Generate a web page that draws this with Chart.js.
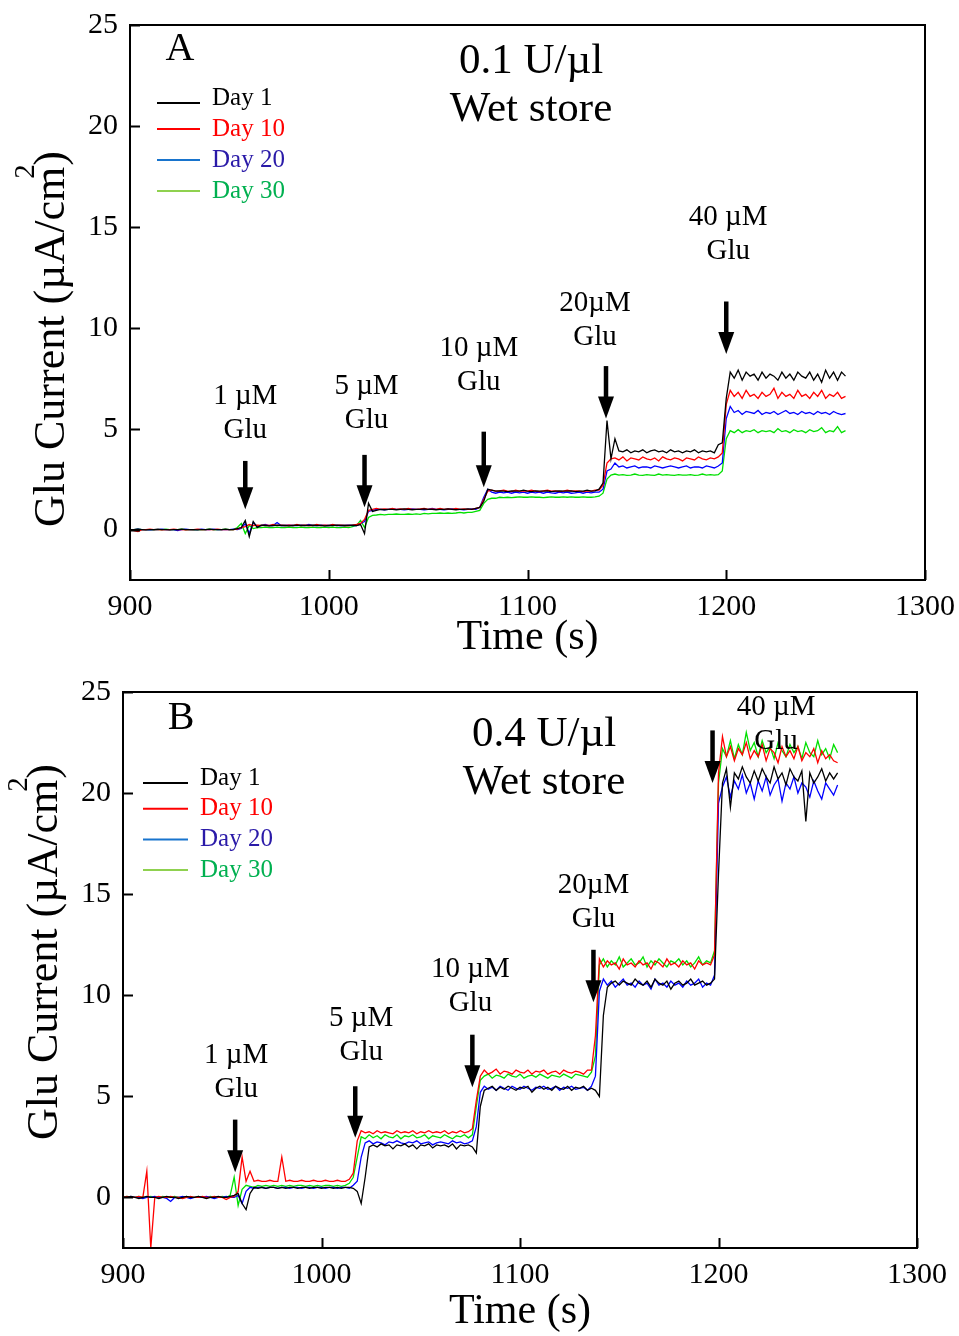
<!DOCTYPE html>
<html>
<head>
<meta charset="utf-8">
<title>Glu Current - Wet store</title>
<script src="https://cdn.jsdelivr.net/npm/chart.js@4.4.1/dist/chart.umd.min.js"></script>
<style>
  html, body { margin: 0; padding: 0; background: #fff; }
  .panel { position: absolute; left: 0; width: 959px; }
  #wrapA { top: 0; height: 660px; }
  #wrapB { top: 660px; height: 676px; }
</style>
</head>
<body>
<div class="panel" id="wrapA"><canvas id="chartA"></canvas></div>
<div class="panel" id="wrapB"><canvas id="chartB"></canvas></div>
<script>
// sampling: one reading every 2 s from 900 s
const tStart = 900;
const tStep = 2;

const seriesNames = ["Day 1", "Day 10", "Day 20", "Day 30"];
const xTicks = [900, 1000, 1100, 1200, 1300];
const yTicks = [0, 5, 10, 15, 20, 25];
const doses = ["1 \u00b5M", "5 \u00b5M", "10 \u00b5M", "20\u00b5M", "40 \u00b5M"];

// panel A : 0.1 U/ul
const a_day1 = [
  0, 0, 0.02, 0, -0.02, 0, 0, 0.02, 0, 0,
  -0.02, 0, 0, 0.02, 0, 0, 0, -0.02, 0, 0,
  0.02, 0, 0, 0, 0.02, 0, 0, 0.05, 0.1, 0.45,
  -0.35, 0.4, 0.1, 0.22, 0.2, 0.18, 0.2, 0.22, 0.2, 0.2,
  0.18, 0.2, 0.22, 0.2, 0.2, 0.2, 0.22, 0.2, 0.2, 0.18,
  0.2, 0.2, 0.22, 0.2, 0.2, 0.2, 0.22, 0.2, 0.25, -0.2,
  1.3, 0.9, 0.95, 1.0, 0.98, 1.0, 1.0, 0.98, 1.0, 1.02,
  1.0, 0.98, 1.0, 1.0, 1.02, 1.0, 1.0, 0.98, 1.0, 1.0,
  1.02, 1.0, 0.98, 1.0, 1.0, 1.02, 1.0, 1.05, 1.1, 1.4,
  2.0, 1.95, 1.9, 1.92, 1.9, 1.88, 1.92, 1.9, 1.9, 1.95,
  1.9, 1.88, 1.92, 1.9, 1.9, 1.92, 1.88, 1.9, 1.92, 1.9,
  1.9, 1.92, 1.88, 1.9, 1.9, 1.95, 1.9, 1.92, 2.0, 2.3,
  5.4, 3.5, 4.5, 3.9, 3.85, 3.95, 3.8, 3.9, 3.85, 3.95,
  3.8, 3.9, 3.95, 3.85, 3.9, 3.8, 3.95, 3.85, 3.9, 3.8,
  3.9, 3.85, 3.95, 3.8, 3.9, 3.85, 3.9, 3.8, 4.2, 4.3,
  6.5, 7.8, 7.5, 7.9, 7.4, 7.8, 7.6, 7.7, 7.4, 7.8,
  7.5, 7.7, 7.6, 7.4, 7.8, 7.5, 7.7, 7.4, 7.8, 7.6,
  7.5, 7.8, 7.4, 7.7, 7.3, 7.9, 7.5, 7.8, 7.4, 7.8,
  7.6
];
const a_day10 = [
  0, -0.05, -0.1, 0, 0, 0.02, 0, 0, -0.02, 0,
  0, 0.02, 0, 0, -0.02, 0, 0, 0.02, 0, 0,
  0, 0, 0.02, 0, 0, 0, 0, 0.02, 0.1, 0.15,
  0.25, 0.2, 0.22, 0.2, 0.22, 0.2, 0.25, 0.2, 0.22, 0.2,
  0.22, 0.2, 0.25, 0.2, 0.22, 0.2, 0.2, 0.25, 0.2, 0.22,
  0.2, 0.25, 0.2, 0.22, 0.2, 0.2, 0.22, 0.25, 0.3, 0.5,
  0.95, 1.0, 1.05, 1.0, 1.02, 1.0, 1.05, 1.0, 1.02, 1.0,
  1.05, 1.0, 1.0, 1.02, 1.05, 1.0, 1.02, 1.0, 1.05, 1.0,
  1.02, 1.0, 1.05, 1.0, 1.02, 1.0, 1.0, 1.05, 1.1, 1.5,
  1.9, 1.95, 1.9, 1.92, 1.95, 1.9, 1.88, 1.95, 1.9, 1.92,
  1.9, 1.95, 1.9, 1.88, 1.92, 1.95, 1.9, 1.92, 1.88, 1.9,
  1.95, 1.9, 1.92, 1.9, 1.88, 1.92, 1.9, 1.95, 1.95, 2.2,
  3.3, 3.5, 3.55, 3.45, 3.6, 3.4, 3.55, 3.5, 3.45, 3.6,
  3.5, 3.45, 3.55, 3.4, 3.6, 3.5, 3.45, 3.55, 3.5, 3.4,
  3.55, 3.5, 3.45, 3.6, 3.5, 3.45, 3.55, 3.5, 3.6, 3.8,
  6.2, 6.9, 6.6, 6.8, 6.5, 6.9, 6.6, 6.7, 6.5, 6.8,
  6.6, 6.7, 7.0, 6.5, 6.8, 6.6, 6.7, 6.5, 6.9, 6.6,
  6.7, 6.5, 6.8, 6.6, 6.9, 6.5, 6.7, 6.6, 6.8, 6.5,
  6.6
];
const a_day20 = [
  0, 0, 0.02, 0, 0, -0.02, 0, 0, 0.02, 0,
  0, 0, -0.05, 0, 0.02, 0, 0, 0, 0.02, 0,
  0, 0.02, 0, 0, 0, 0, 0.02, 0, 0.05, 0.3,
  -0.2, 0.35, 0.15, 0.2, 0.25, 0.2, 0.2, 0.35, 0.2, 0.2,
  0.22, 0.2, 0.2, 0.22, 0.2, 0.25, 0.2, 0.2, 0.22, 0.2,
  0.2, 0.22, 0.2, 0.2, 0.2, 0.22, 0.2, 0.2, 0.3, 0.4,
  0.9, 0.95, 1.0, 1.0, 0.98, 1.0, 1.02, 1.0, 1.0, 0.98,
  1.0, 1.02, 1.0, 1.0, 0.98, 1.0, 1.05, 1.0, 1.0, 0.98,
  1.0, 1.02, 1.0, 1.0, 0.98, 1.0, 1.02, 1.0, 1.1, 1.6,
  2.0, 1.85, 1.8, 1.85, 1.82, 1.85, 1.8, 1.85, 1.82, 1.85,
  1.8, 1.85, 1.82, 1.85, 1.8, 1.85, 1.82, 1.8, 1.85, 1.82,
  1.85, 1.8, 1.82, 1.85, 1.8, 1.85, 1.82, 1.85, 1.85, 2.0,
  2.9, 3.0, 3.3, 3.1, 3.15, 3.05, 3.1, 3.15, 3.05, 3.1,
  3.1, 3.05, 3.15, 3.1, 3.05, 3.1, 3.15, 3.1, 3.05, 3.1,
  3.15, 3.05, 3.1, 3.1, 3.05, 3.15, 3.1, 3.05, 3.15, 3.3,
  5.5, 6.1, 5.8, 5.9, 5.7, 5.85, 5.8, 5.75, 5.9, 5.7,
  5.8, 5.75, 5.85, 5.7, 5.8, 5.9, 5.75, 5.8, 5.7, 5.85,
  5.75, 5.8, 5.7, 5.85, 5.75, 5.8, 5.7, 5.85, 5.75, 5.7,
  5.75
];
const a_day30 = [
  0, 0, 0.02, 0, 0, 0, -0.02, 0, 0, 0.02,
  0, 0, 0, 0.02, 0, 0, -0.02, 0, 0, 0,
  0.02, 0, 0, 0, 0.02, 0, 0, 0.1, 0.3, -0.2,
  0.2, 0.05, 0.1, 0.1, 0.12, 0.1, 0.1, 0.12, 0.1, 0.1,
  0.12, 0.1, 0.1, 0.12, 0.1, 0.1, 0.12, 0.1, 0.1, 0.12,
  0.1, 0.12, 0.1, 0.1, 0.12, 0.1, 0.15, 0.2, 0.45, 0.1,
  0.6, 0.7, 0.72, 0.75, 0.73, 0.75, 0.75, 0.77, 0.75, 0.75,
  0.77, 0.75, 0.78, 0.75, 0.8, 0.78, 0.8, 0.8, 0.82, 0.8,
  0.82, 0.8, 0.82, 0.85, 0.82, 0.85, 0.85, 0.9, 0.95, 1.3,
  1.5, 1.55, 1.55, 1.6, 1.58, 1.6, 1.58, 1.6, 1.62, 1.6,
  1.6, 1.62, 1.6, 1.6, 1.58, 1.6, 1.62, 1.6, 1.6, 1.62,
  1.6, 1.62, 1.6, 1.6, 1.62, 1.6, 1.6, 1.62, 1.65, 1.8,
  2.5, 2.7, 2.75, 2.7, 2.72, 2.68, 2.7, 2.75, 2.7, 2.68,
  2.72, 2.7, 2.68, 2.75, 2.7, 2.72, 2.7, 2.68, 2.72, 2.7,
  2.7, 2.72, 2.68, 2.7, 2.75, 2.7, 2.72, 2.7, 2.72, 2.9,
  4.5, 4.9, 4.8, 4.95, 4.8, 4.9, 4.85, 4.95, 4.8, 4.9,
  4.85, 4.9, 4.8, 5.0, 4.85, 4.9, 4.8, 4.95, 4.85, 4.9,
  4.8, 4.95, 4.85, 4.9, 5.05, 4.8, 4.9, 4.85, 5.1, 4.8,
  4.9
];

// panel B : 0.4 U/ul
const b_day1 = [
  0, 0, 0.05, 0, -0.05, 0, 0.05, 0, 0, -0.05,
  0, 0.05, 0, 0, -0.05, 0, 0.05, 0, 0, 0.05,
  0, -0.05, 0, 0, 0.05, 0, 0, 0.05, 0.1, 0.2,
  -0.3, -0.6, 0.2, 0.5, 0.45, 0.5, 0.45, 0.5, 0.5, 0.45,
  0.5, 0.45, 0.5, 0.5, 0.45, 0.5, 0.5, 0.45, 0.5, 0.5,
  0.45, 0.5, 0.5, 0.45, 0.5, 0.45, 0.5, 0.5, 0.45, 0.3,
  -0.3, 1.0, 2.5, 2.6, 2.5, 2.65, 2.55, 2.6, 2.4, 2.6,
  2.55, 2.65, 2.5, 2.6, 2.4, 2.6, 2.55, 2.65, 2.45, 2.6,
  2.55, 2.6, 2.5, 2.65, 2.4, 2.6, 2.55, 2.6, 2.5, 2.2,
  4.5, 5.3, 5.4, 5.5, 5.3, 5.45, 5.35, 5.5, 5.4, 5.3,
  5.45, 5.4, 5.5, 5.2, 5.4, 5.5, 5.35, 5.45, 5.3, 5.5,
  5.4, 5.35, 5.5, 5.3, 5.45, 5.4, 5.5, 5.3, 5.4, 5.3,
  5.0, 9.0, 10.4, 10.6, 10.7, 10.5, 10.7, 10.6, 10.5, 10.8,
  10.6, 10.5, 10.7, 10.4, 10.8, 10.6, 10.5, 10.7, 10.3, 10.6,
  10.7, 10.5, 10.6, 10.8, 10.5, 10.6, 10.7, 10.5, 10.6, 10.8,
  16.0, 20.5, 21.2, 19.3, 21.0, 20.7, 21.3, 20.8, 20.5, 21.1,
  20.6, 21.2, 20.8, 20.5, 21.3, 20.7, 21.0, 20.4, 21.2, 20.8,
  20.6, 21.1, 18.6, 21.0, 20.5, 20.8, 21.2, 20.6, 21.0, 20.7,
  21.0
];
const b_day10 = [
  0, 0.05, 0, 0, 0.05, 0, 1.3, -2.5, 0, 0.05,
  0, 0, 0.05, 0, 0, -0.05, 0, 0.05, 0, 0,
  0.05, 0, 0, 0.05, 0, 0, -0.1, 0, 0.05, 0.3,
  2.0, 0.8, 1.3, 0.8, 0.85, 0.8, 0.8, 0.85, 0.8, 0.8,
  2.0, 0.8, 0.85, 0.8, 0.8, 0.85, 0.8, 0.8, 0.85, 0.8,
  0.8, 0.85, 0.8, 0.8, 0.85, 0.8, 0.8, 0.9, 1.2, 2.8,
  3.3, 3.2, 3.25, 3.15, 3.3, 3.2, 3.25, 3.2, 3.15, 3.3,
  3.2, 3.25, 3.2, 3.3, 3.15, 3.25, 3.2, 3.3, 3.2, 3.25,
  3.2, 3.3, 3.15, 3.25, 3.2, 3.3, 3.2, 3.25, 3.4, 4.8,
  6.0, 6.3, 6.1, 6.2, 6.35, 6.1, 6.25, 6.2, 6.1, 6.3,
  6.2, 6.15, 6.3, 6.1, 6.25, 6.2, 6.3, 6.1, 6.2, 6.25,
  6.1, 6.3, 6.2, 6.15, 6.25, 6.2, 6.1, 6.3, 6.3, 8.0,
  11.8, 11.4, 11.7, 11.5, 11.6, 11.3, 11.8, 11.5, 11.6, 11.4,
  11.7, 11.5, 11.6, 11.3, 11.7, 11.6, 11.4, 11.8, 11.5, 11.6,
  11.4, 11.7, 11.5, 11.6, 11.3, 11.7, 11.5, 11.6, 11.5, 12.0,
  21.0, 22.8, 21.8, 22.3, 21.6, 22.2, 21.9, 22.5, 21.7, 22.1,
  21.8, 22.4, 21.6, 22.2, 22.0, 21.5, 22.3, 21.8, 22.1, 21.7,
  22.3, 21.6, 22.0, 21.8, 22.2, 21.5, 22.1, 21.7, 21.9, 21.6,
  21.5
];
const b_day20 = [
  0, 0, 0.05, 0, 0, -0.05, 0, 0, 0.05, 0,
  0, -0.05, -0.2, 0, 0, 0.05, 0, -0.05, 0, 0,
  0, 0.05, 0, -0.05, 0, 0, 0.05, 0, 0, 0.1,
  -0.3, 0.3, 0.5, 0.45, 0.5, 0.5, 0.45, 0.5, 0.5, 0.45,
  0.5, 0.5, 0.45, 0.5, 0.5, 0.45, 0.5, 0.5, 0.45, 0.5,
  0.5, 0.45, 0.5, 0.5, 0.45, 0.5, 0.5, 0.45, 0.6, 0.8,
  2.0, 2.7, 2.8, 2.65, 2.75, 2.7, 2.6, 2.75, 2.7, 2.8,
  2.7, 2.65, 2.75, 2.7, 2.8, 2.65, 2.7, 2.75, 2.6, 2.7,
  2.75, 2.7, 2.65, 2.8, 2.7, 2.75, 2.65, 2.7, 2.8, 3.5,
  5.2, 5.5, 5.35, 5.45, 5.3, 5.5, 5.4, 5.3, 5.5, 5.4,
  5.35, 5.5, 5.4, 5.3, 5.45, 5.4, 5.5, 5.35, 5.4, 5.5,
  5.3, 5.45, 5.4, 5.5, 5.35, 5.4, 5.45, 5.3, 5.5, 6.0,
  10.2, 10.8, 10.5, 10.7, 10.4, 10.6, 10.8, 10.5, 10.6, 10.4,
  10.7, 10.5, 10.6, 10.3, 10.8, 10.5, 10.6, 10.4, 10.7, 10.5,
  10.6, 10.4, 10.7, 10.5, 10.6, 10.8, 10.4, 10.6, 10.5, 11.0,
  19.5, 20.3, 20.8, 19.8, 20.6, 20.2, 20.9, 20.0, 20.5, 19.7,
  20.6, 20.1, 20.8, 19.9, 20.4, 20.7, 19.6, 20.5, 20.2, 20.8,
  20.0, 20.5, 20.3, 19.8, 20.6, 20.1, 19.7, 20.5, 20.2, 19.9,
  20.4
];
const b_day30 = [
  0, 0.05, 0, 0, 0.05, 0, 0, 0.05, 0, 0,
  0.05, 0, 0, 0.05, 0, 0, 0.05, 0, 0, 0.05,
  0, 0, 0.05, 0, 0, 0.05, 0, 0.1, 1.0, -0.4,
  0.4, 0.6, 0.55, 0.5, 0.6, 0.55, 0.6, 0.55, 0.6, 0.55,
  0.6, 0.55, 0.6, 0.55, 0.6, 0.6, 0.55, 0.6, 0.55, 0.6,
  0.55, 0.6, 0.6, 0.55, 0.6, 0.55, 0.6, 0.7, 1.0, 2.0,
  3.0, 2.9, 3.1, 2.95, 3.05, 2.9, 3.1, 3.0, 2.95, 3.1,
  2.9, 3.05, 3.0, 3.1, 2.95, 3.0, 3.1, 2.9, 3.05, 3.0,
  2.95, 3.1, 3.0, 2.9, 3.05, 3.0, 3.1, 2.95, 3.1, 4.5,
  5.8, 6.0, 6.1, 5.9, 6.05, 6.0, 5.9, 6.1, 6.0, 5.95,
  6.1, 5.9, 6.0, 6.05, 5.95, 6.1, 6.0, 5.9, 6.05, 6.0,
  5.95, 6.1, 6.0, 5.9, 6.1, 6.05, 6.0, 5.95, 6.2, 7.0,
  11.5, 11.8, 11.4, 11.7, 11.5, 11.9, 11.4, 11.6, 11.8, 11.5,
  11.6, 11.9, 11.4, 11.7, 11.5, 11.8, 11.6, 11.4, 11.7, 11.6,
  11.8, 11.5, 11.7, 11.4, 11.6, 11.9, 11.5, 11.7, 11.6, 12.2,
  20.5, 22.2, 21.8, 22.6, 21.7, 22.4, 21.9, 23.0, 22.1, 22.5,
  21.8, 22.6, 22.0, 22.3, 21.7, 22.5, 22.1, 21.8, 22.4, 22.0,
  22.3, 21.7, 22.5, 22.0, 21.8, 22.6, 21.9, 22.2, 21.7, 22.4,
  22.0
];

// where each addition arrow sits (time, top value, tip value) and its label anchor
const arrowT_A = [958, 1018, 1078, 1139.5, 1200];
const arrowTop_A = [3.4, 3.7, 4.85, 8.1, 11.3];
const arrowTip_A = [1.0, 1.1, 2.1, 5.5, 8.7];
const labelT_A = [958, 1019, 1075.5, 1134, 1201];
const labelV_A = [6.6, 7.1, 9.0, 11.2, 15.45];

const arrowT_B = [956.5, 1017, 1076, 1137, 1197];
const arrowTop_B = [3.85, 5.5, 8.05, 12.25, 23.1];
const arrowTip_B = [1.25, 2.95, 5.45, 9.65, 20.5];
const labelT_B = [957, 1020, 1075, 1137, 1229];
const labelV_B = [7.05, 8.85, 11.3, 15.45, 24.25];

const lineColors = ["#000000", "#ff0000", "#0000ff", "#00e000"];
const legendLineColors = ["#000000", "#ff0000", "#1874cd", "#8fd14f"];
const legendTextColors = ["#000000", "#ff0000", "#2a1aa8", "#00b050"];

const serif = "'Liberation Serif', 'Times New Roman', 'DejaVu Serif', serif";

function toPoints(values) {
  return values.map((v, i) => ({ x: tStart + i * tStep, y: v }));
}

function drawArrow(ctx, px, yTop, yTip) {
  const head = 22, half = 8;
  ctx.beginPath();
  ctx.lineWidth = 4.5;
  ctx.moveTo(px, yTop);
  ctx.lineTo(px, yTip - head + 2);
  ctx.stroke();
  ctx.beginPath();
  ctx.moveTo(px - half, yTip - head);
  ctx.lineTo(px + half, yTip - head);
  ctx.lineTo(px, yTip);
  ctx.closePath();
  ctx.fill();
}

function decorPlugin(p) {
  return {
    id: "decor",
    afterDraw(chart) {
      const { ctx, chartArea: a, scales: { x, y } } = chart;
      ctx.save();
      ctx.strokeStyle = "#000";
      ctx.fillStyle = "#000";

      // frame and inward ticks
      ctx.lineWidth = 2;
      ctx.strokeRect(a.left, a.top, a.right - a.left, a.bottom - a.top);
      ctx.beginPath();
      xTicks.forEach(v => {
        const px = Math.round(x.getPixelForValue(v)) + 0.5;
        ctx.moveTo(px, a.bottom);
        ctx.lineTo(px, a.bottom - 10);
      });
      yTicks.forEach(v => {
        const py = Math.round(y.getPixelForValue(v)) + 0.5;
        ctx.moveTo(a.left, py);
        ctx.lineTo(a.left + 10, py);
      });
      ctx.stroke();

      // addition arrows and labels
      ctx.textAlign = "center";
      ctx.textBaseline = "middle";
      ctx.font = "29px " + serif;
      p.arrowT.forEach((t, i) => {
        drawArrow(ctx, x.getPixelForValue(t), y.getPixelForValue(p.arrowTop[i]), y.getPixelForValue(p.arrowTip[i]));
        const lx = x.getPixelForValue(p.labelT[i]);
        const ly = y.getPixelForValue(p.labelV[i]);
        ctx.fillText(doses[i], lx, ly);
        ctx.fillText("Glu", lx, ly + 34);
      });

      // panel letter and heading
      ctx.font = "40px " + serif;
      ctx.fillText(p.letter, a.left + p.letterDx, a.top + p.letterDy);
      ctx.font = "43px " + serif;
      ctx.fillText(p.heading, a.left + p.headDx, a.top + p.headDy);
      ctx.fillText("Wet store", a.left + p.headDx, a.top + p.headDy + 48);

      // legend
      ctx.textAlign = "left";
      ctx.font = "25px " + serif;
      seriesNames.forEach((name, i) => {
        const ry = a.top + p.legDy + i * p.legGap;
        ctx.strokeStyle = legendLineColors[i];
        ctx.lineWidth = 2;
        ctx.beginPath();
        ctx.moveTo(a.left + p.legX0, ry + (i === 0 ? 5 : 0));
        ctx.lineTo(a.left + p.legX1, ry + (i === 0 ? 5 : 0));
        ctx.stroke();
        ctx.fillStyle = legendTextColors[i];
        ctx.fillText(name, a.left + p.legTx, ry);
      });

      // y axis title with raised 2
      ctx.fillStyle = "#000";
      ctx.translate(p.yTitleX, p.yTitleY);
      ctx.rotate(-Math.PI / 2);
      ctx.textBaseline = "alphabetic";
      ctx.font = "44px " + serif;
      const main = "Glu Current (\u00b5A/cm";
      const w = ctx.measureText(main).width;
      ctx.fillText(main, 0, 0);
      ctx.fillText(")", w + 1, 0);
      ctx.font = "29px " + serif;
      ctx.fillText("2", w - 12, -30);
      ctx.restore();
    }
  };
}

function makeChart(id, series, p) {
  const datasets = series.map((vals, i) => ({
    label: seriesNames[i],
    data: toPoints(vals),
    borderColor: lineColors[i],
    borderWidth: 1.3,
    pointRadius: 0,
    tension: 0,
    fill: false
  }));
  return new Chart(document.getElementById(id).getContext("2d"), {
    type: "line",
    data: { datasets: datasets },
    options: {
      responsive: true,
      maintainAspectRatio: false,
      animation: false,
      layout: { padding: { top: p.padTop, right: p.padRight, left: 0, bottom: 0 } },
      plugins: { legend: { display: false }, tooltip: { enabled: false } },
      scales: {
        x: {
          type: "linear",
          min: 900,
          max: 1300,
          afterBuildTicks: s => { s.ticks = xTicks.map(v => ({ value: v })); },
          afterFit: s => {
            s.height = p.xHeight;
            s.paddingLeft = 0;
            s.paddingRight = 0;
          },
          grid: { display: false, drawTicks: false },
          border: { display: false },
          ticks: {
            color: "#000",
            font: { family: serif, size: 30 },
            padding: 9,
            maxRotation: 0,
            callback: v => String(v)
          },
          title: {
            display: true,
            text: "Time (s)",
            color: "#000",
            font: { family: serif, size: 42, lineHeight: 1 },
            padding: { top: 0, bottom: p.xTitlePad }
          }
        },
        y: {
          type: "linear",
          min: -2.5,
          max: 25,
          afterBuildTicks: s => { s.ticks = yTicks.map(v => ({ value: v })); },
          afterFit: s => {
            s.width = p.yWidth;
            s.paddingTop = 0;
            s.paddingBottom = 0;
          },
          grid: { display: false, drawTicks: false },
          border: { display: false },
          ticks: {
            color: "#000",
            font: { family: serif, size: 30 },
            padding: 12,
            callback: v => String(v)
          }
        }
      }
    },
    plugins: [decorPlugin(p)]
  });
}

makeChart("chartA", [a_day1, a_day10, a_day20, a_day30], {
  padTop: 25, padRight: 34, yWidth: 130, xHeight: 80, xTitlePad: 1,
  arrowT: arrowT_A, arrowTop: arrowTop_A, arrowTip: arrowTip_A, labelT: labelT_A, labelV: labelV_A,
  letter: "A", letterDx: 50, letterDy: 24,
  heading: "0.1 U/\u00b5l", headDx: 401, headDy: 37,
  legDy: 73, legGap: 31, legX0: 27, legX1: 70, legTx: 82,
  yTitleX: 64, yTitleY: 527
});

makeChart("chartB", [b_day1, b_day10, b_day20, b_day30], {
  padTop: 32, padRight: 42, yWidth: 123, xHeight: 88, xTitlePad: 3,
  arrowT: arrowT_B, arrowTop: arrowTop_B, arrowTip: arrowTip_B, labelT: labelT_B, labelV: labelV_B,
  letter: "B", letterDx: 58, letterDy: 26,
  heading: "0.4 U/\u00b5l", headDx: 421, headDy: 43,
  legDy: 86, legGap: 30.7, legX0: 20, legX1: 65, legTx: 77,
  yTitleX: 57, yTitleY: 480
});
</script>
</body>
</html>
